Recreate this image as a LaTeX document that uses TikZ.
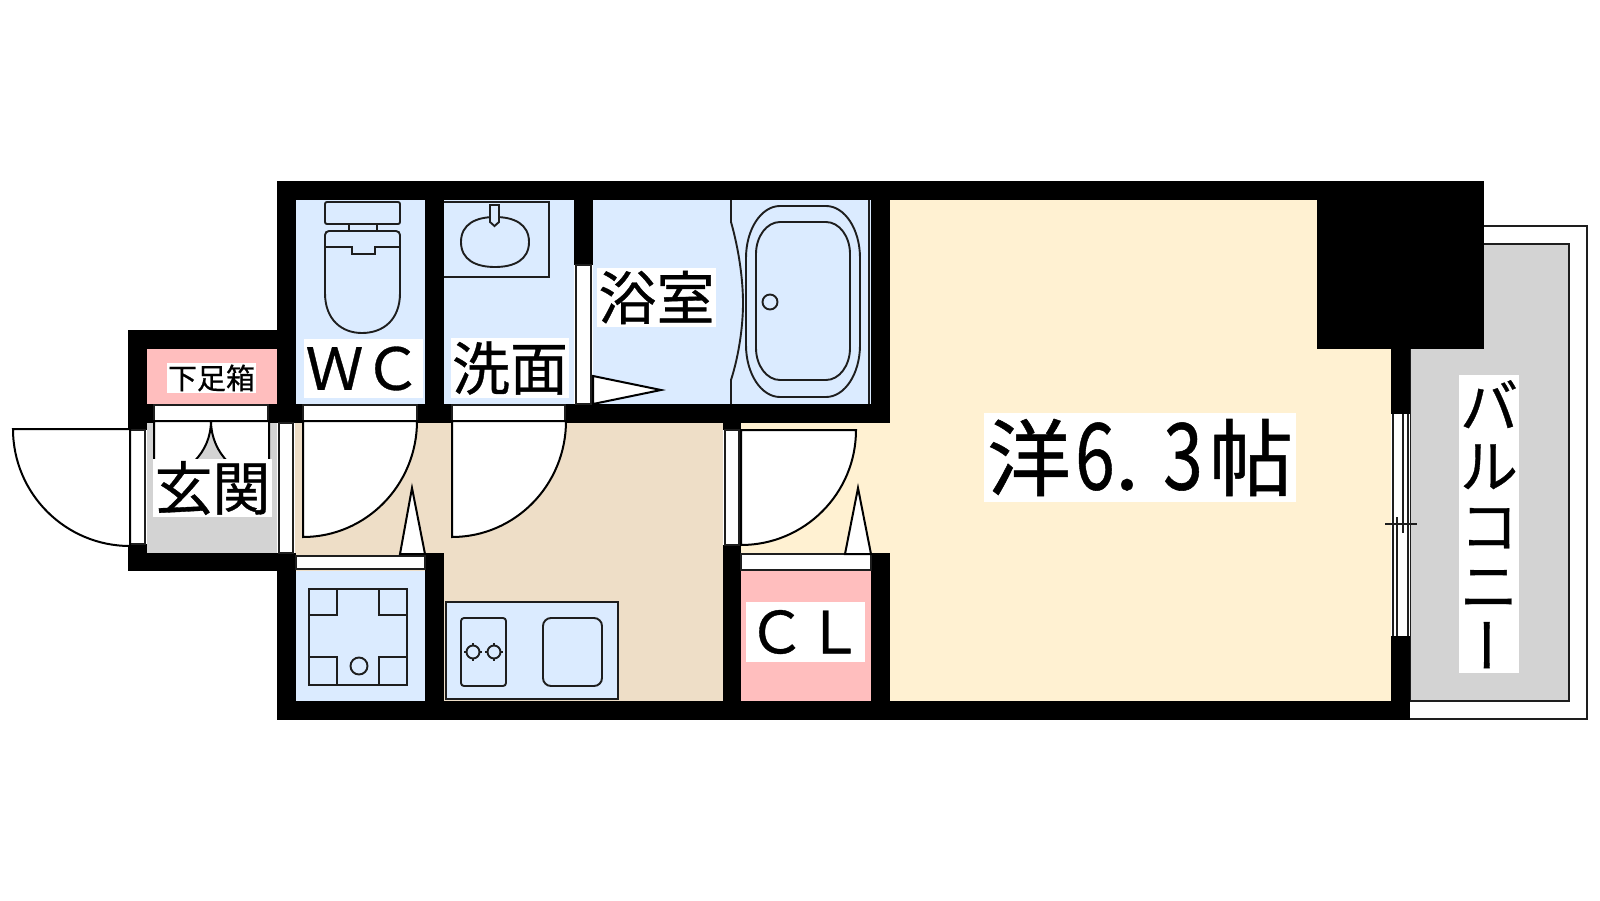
\documentclass[tikz,border=0pt]{standalone}
\usepackage{fontspec}
\setmainfont{Noto Sans CJK JP}[FakeBold=0.6]
\definecolor{bluefloor}{RGB}{219,235,255}
\definecolor{pinkfloor}{RGB}{255,190,190}
\definecolor{hallfloor}{RGB}{238,222,199}
\definecolor{mainfloor}{RGB}{255,241,210}
\definecolor{grayfloor}{RGB}{211,211,211}
\definecolor{fixline}{RGB}{30,30,30}
\def\tubring(#1,#2)(#3,#4)(#5,#6){\draw[fixture] ({#1},{#2+#6}) arc (180:270:#5 and #6) -- ({#3-#5},{#2}) arc (270:360:#5 and #6) -- ({#3},{#4-#6}) arc (0:90:#5 and #6) -- ({#1+#5},{#4}) arc (90:180:#5 and #6) -- cycle;}
\tikzset{
	wall/.style={fill=black, draw=none},
	fixture/.style={draw=fixline, line width=1.9pt},
	doorleaf/.style={draw=black, line width=2pt, fill=white},
	strip/.style={draw=fixline, line width=1.7pt, fill=white},
	roomlabel/.style={fill=white, inner sep=0pt, align=center, font=\fontsize{58}{58}\selectfont},
}
\begin{document}
\begin{tikzpicture}[x=1pt, y=-1pt]
	\useasboundingbox (0, 0) rectangle (1600, 900);
	%%%%% floors %%%%%
	\fill[grayfloor] (147, 423) rectangle (277, 553);
	\fill[pinkfloor] (147, 349) rectangle (277, 404);
	\fill[bluefloor] (296, 200) rectangle (425, 404);
	\fill[bluefloor] (444, 200) rectangle (574, 404);
	\fill[bluefloor] (593, 200) rectangle (871, 404);
	\fill[hallfloor] (295, 423) rectangle (723, 701);
	\fill[mainfloor] (890, 200) rectangle (1391, 701);
	\fill[mainfloor] (741, 423) rectangle (890, 553);
	\fill[pinkfloor] (741, 571) rectangle (871, 701);
	\fill[bluefloor] (296, 571) rectangle (425, 701);
	%%%%% balcony %%%%%
	\draw[fixture] (1484, 226) -- (1587, 226) -- (1587, 719) -- (1410, 719);
	\draw[fixture, fill=grayfloor] (1484, 244) -- (1569, 244) -- (1569, 701) -- (1410, 701) -- (1410, 244) -- cycle;
	%%%%% walls %%%%%
	\fill[wall] (277, 181) rectangle (1484, 200);
	\fill[wall] (1317, 181) rectangle (1484, 349);
	\fill[wall] (277, 181) rectangle (296, 423);
	\fill[wall] (128, 330) rectangle (296, 349);
	\fill[wall] (128, 330) rectangle (147, 430);
	\fill[wall] (128, 404) rectangle (154, 423);
	\fill[wall] (268, 404) rectangle (303, 423);
	\fill[wall] (418, 404) rectangle (452, 423);
	\fill[wall] (425, 200) rectangle (444, 404);
	\fill[wall] (574, 200) rectangle (593, 265);
	\fill[wall] (566, 404) rectangle (890, 423);
	\fill[wall] (871, 181) rectangle (890, 423);
	\fill[wall] (723, 423) rectangle (741, 430);
	\fill[wall] (723, 545) rectangle (741, 720);
	\fill[wall] (871, 553) rectangle (890, 720);
	\fill[wall] (128, 544) rectangle (147, 571);
	\fill[wall] (128, 553) rectangle (296, 571);
	\fill[wall] (277, 553) rectangle (296, 720);
	\fill[wall] (425, 553) rectangle (444, 720);
	\fill[wall] (277, 701) rectangle (1410, 720);
	\fill[wall] (1391, 349) rectangle (1410, 414);
	\fill[wall] (1391, 636) rectangle (1410, 720);
	%%%%% strips %%%%%
	\draw[strip] (154, 405) rectangle (268, 421);
	\draw[strip] (303, 405) rectangle (417, 421);
	\draw[strip] (452, 405) rectangle (565, 421);
	\draw[strip] (279, 423) rectangle (293, 553);
	\draw[strip] (130, 430) rectangle (145, 544);
	\draw[strip] (576, 265) rectangle (591, 404);
	\draw[strip] (725, 430) rectangle (739, 545);
	\draw[strip] (296, 556) rectangle (425, 569);
	\draw[strip] (741, 554) rectangle (871, 570);
	%%%%% doors %%%%%
	\draw[doorleaf] (130, 429) -- (13, 429) arc (180:90:117) -- cycle;
	\draw[doorleaf] (303, 421) -- (417, 421) arc (0:90:114 and 116) -- cycle;
	\draw[doorleaf] (452, 421) -- (566, 421) arc (0:90:114 and 116) -- cycle;
	\draw[doorleaf] (741, 430) -- (856, 430) arc (0:90:115) -- cycle;
	\draw[doorleaf] (154, 421) -- (211, 421) arc (0:90:57) -- cycle;
	\draw[doorleaf] (269, 421) -- (211, 421) arc (180:90:58) -- cycle;
	%%%%% door stops %%%%%
	\draw[doorleaf] (400, 554) -- (412, 488) -- (425, 554) -- cycle;
	\draw[doorleaf] (845, 554) -- (858, 488) -- (871, 554) -- cycle;
	\draw[doorleaf] (593, 376) -- (661, 390) -- (593, 404) -- cycle;
	%%%%% toilet %%%%%
	\draw[fixture, rounded corners=2pt] (325, 202) rectangle (400, 224);
	\draw[fixture] (349, 224) -- (349, 232);
	\draw[fixture] (377, 224) -- (377, 232);
	\draw[fixture, rounded corners=4pt] (325, 293) -- (325, 231) -- (400, 231) -- (400, 293);
	\draw[fixture] (325, 293) .. controls (325, 320) and (342, 333) .. (362, 333) .. controls (383, 333) and (400, 320) .. (400, 293);
	\draw[fixture] (325, 247) -- (352, 247) -- (352, 254) -- (375, 254) -- (375, 247) -- (400, 247);
	%%%%% wash basin %%%%%
	\draw[fixture] (444, 202) -- (549, 202) -- (549, 277) -- (444, 277);
	\draw[fixture] (461, 242) .. controls (461, 224) and (476, 217) .. (495, 217) .. controls (514, 217) and (529, 224) .. (529, 242) .. controls (529, 260) and (514, 267) .. (495, 267) .. controls (476, 267) and (461, 260) .. (461, 242) -- cycle;
	\draw[fixture, fill=bluefloor] (490, 205) -- (499, 205) -- (499, 222) -- (494.5, 226) -- (490, 222) -- cycle;
	%%%%% bath %%%%%
	\draw[fixture] (731, 200) -- (731, 222) .. controls (739, 250) and (743, 280) .. (743, 303) .. controls (743, 326) and (739, 355) .. (731, 380) -- (731, 404);
	\draw[fixture] (869, 200) -- (869, 404);
	\tubring(746,206)(860,397)(34,52)
	\tubring(756,222)(850,380)(24,32)
	\draw[fixture] (770, 302) circle (7.5);
	%%%%% laundry pan %%%%%
	\draw[fixture] (309, 589) rectangle (407, 685);
	\draw[fixture] (309, 615) -- (337, 615) -- (337, 589);
	\draw[fixture] (379, 589) -- (379, 615) -- (407, 615);
	\draw[fixture] (309, 657) -- (337, 657) -- (337, 685);
	\draw[fixture] (379, 685) -- (379, 657) -- (407, 657);
	\draw[fixture] (359, 666) circle (8.5);
	%%%%% kitchen %%%%%
	\draw[fixture, fill=bluefloor] (446, 699) -- (446, 602) -- (618, 602) -- (618, 699) -- cycle;
	\draw[fixture, rounded corners=3pt] (461, 618) rectangle (506, 686);
	\draw[fixture, rounded corners=8pt] (543, 618) rectangle (602, 686);
	\foreach \bx in {473, 494} {
		\draw[fixture, line width=1.2pt] (\bx, 643) -- (\bx, 661) (\bx-9, 652) -- (\bx+9, 652);
		\draw[fixture, fill=bluefloor] (\bx, 652) circle (6.5);
	}
	%%%%% window %%%%%
	\fill[white] (1392, 414) rectangle (1410, 636);
	\draw[fixture] (1393, 414) -- (1393, 636);
	\draw[fixture] (1408, 414) -- (1408, 636);
	\draw[fixture] (1403, 414) -- (1403, 533);
	\draw[fixture] (1397, 517) -- (1397, 636);
	\draw[fixture] (1385, 524) -- (1417, 524);
	%%%%% labels %%%%%
	\node[roomlabel, minimum width=119pt, minimum height=58pt] (genkanlabel) at (212.5, 488) {玄関};
	\node[fill=white, inner sep=0pt, minimum width=89pt, minimum height=30pt, font=\fontsize{29}{29}\selectfont] (shoelabel) at (211.5, 378) {下足箱};
	\node[roomlabel, minimum width=119pt, minimum height=59pt] (wclabel) at (363.5, 368.5) {ＷＣ};
	\node[roomlabel, minimum width=118pt, minimum height=60pt] (washlabel) at (510, 368) {洗面};
	\node[roomlabel, minimum width=119pt, minimum height=59pt] (bathlabel) at (656.5, 297.5) {浴室};
	\node[roomlabel, minimum width=119pt, minimum height=60pt] (cllabel) at (805.5, 632) {ＣＬ};
	\node[fill=white, inner sep=0pt, minimum width=312pt, minimum height=89pt, font=\fontsize{84}{84}\selectfont] (mainlabel) at (1140, 457.5) {洋\kern4pt\makebox[40pt]{\scalebox{.85}[1.1]{6}}\makebox[24pt]{.}\kern24pt\makebox[40pt]{\scalebox{.85}[1.1]{3}}\kern6pt 帖};
	\node[roomlabel, minimum width=60pt, minimum height=298pt, font=\fontsize{58}{60}\selectfont] (balconylabel) at (1489, 524) {バ\\ル\\コ\\ニ\\\kern-24pt\smash{\raisebox{10pt}{\rotatebox[origin=c]{-90}{ー}}}};
\end{tikzpicture}
\end{document}
